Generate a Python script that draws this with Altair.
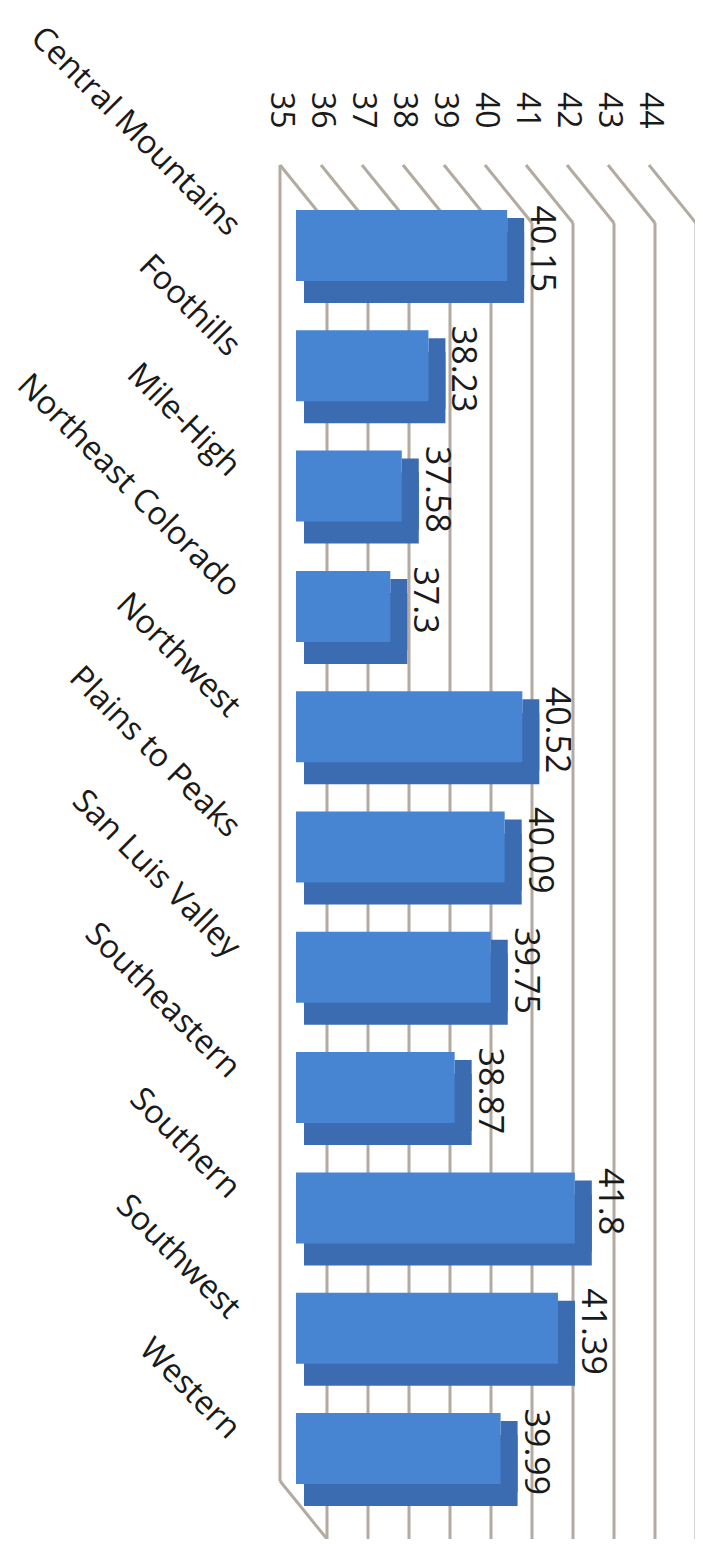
import altair as alt
import pandas as pd

# ---- data ----
regions = [
    "Central Mountains", "Foothills", "Mile-High", "Northeast Colorado",
    "Northwest", "Plains to Peaks", "San Luis Valley", "Southeastern",
    "Southern", "Southwest", "Western",
]
values = [40.15, 38.23, 37.58, 37.3, 40.52, 40.09, 39.75, 38.87, 41.8, 41.39, 39.99]
tick_values = [35, 36, 37, 38, 39, 40, 41, 42, 43, 44]
axis_min = 35
axis_max = 44

df = pd.DataFrame({
    "region": regions,
    "value": values,
    "start": [axis_min] * len(regions),
    "label": [str(v) for v in values],
})
grid_df = pd.DataFrame({"tick": tick_values})
wall_df = pd.DataFrame({"tick": [axis_min]})

# ---- styling ----
FONT = "Open Sans"
FACE = "#4784d2"
DARK = "#3b6cb2"
GRID = "#b3aaa1"
TEXT = "#1a1a1a"
W = 369
H = 1364
BACK = -16   # back-plane shift
FRONT = 31   # front-plane shift
RISE = 58    # depth of the 3D box in y

x_scale = alt.Scale(domain=[axis_min, axis_max], nice=False, zero=False)
y_scale = alt.Scale(domain=regions, paddingInner=0.41, paddingOuter=0.374)

x_axis = alt.Axis(
    orient="top", values=tick_values, labelAngle=90, labelAlign="right",
    labelBaseline="middle", labelOffset=BACK, labelPadding=37,
    ticks=False, domain=False, grid=False, labelFontSize=32,
    labelFont=FONT, labelColor=TEXT, title=None, labelOverlap=False,
    labelFlush=False,
)
y_axis = alt.Axis(
    orient="left", labelAngle=45, labelAlign="right", labelBaseline="middle",
    labelPadding=62, labelOffset=-15, domain=False, ticks=False,
    labelFontSize=32.5, labelFont=FONT, labelColor=TEXT, labelLimit=0,
    labelOverlap=False, title=None,
)


def X(field):
    return alt.X(field, scale=x_scale, axis=x_axis, title=None)


def Y():
    return alt.Y("region:N", scale=y_scale, axis=y_axis, title=None)


grid_v = alt.Chart(grid_df).mark_rule(color=GRID, strokeWidth=3, xOffset=FRONT).encode(
    x=X("tick:Q"),
    y=alt.value(RISE), y2=alt.value(H + 10),
)
grid_d = alt.Chart(grid_df).mark_rule(color=GRID, strokeWidth=3, xOffset=BACK, x2Offset=FRONT).encode(
    x=X("tick:Q"), x2="tick:Q",
    y=alt.value(0), y2=alt.value(RISE),
)
wall_v = alt.Chart(wall_df).mark_rule(color=GRID, strokeWidth=3, xOffset=BACK).encode(
    x=X("tick:Q"),
    y=alt.value(0), y2=alt.value(H - 48),
)
wall_d = alt.Chart(wall_df).mark_rule(color=GRID, strokeWidth=3, xOffset=BACK, x2Offset=FRONT).encode(
    x=X("tick:Q"), x2="tick:Q",
    y=alt.value(H - 48), y2=alt.value(H + 10),
)

depth = alt.Chart(df).mark_bar(color=DARK, xOffset=8, x2Offset=17, yOffset=22).encode(
    x=X("start:Q"), x2="value:Q", y=Y(),
)
end_face = alt.Chart(df).mark_bar(color=DARK, x2Offset=17, yOffset=8).encode(
    x=X("value:Q"), x2="value:Q", y=Y(),
)
face = alt.Chart(df).mark_bar(color=FACE).encode(
    x=X("start:Q"), x2="value:Q", y=Y(),
)
labels = alt.Chart(df).mark_text(
    angle=90, align="left", baseline="alphabetic", xOffset=24, yOffset=-40,
    fontSize=34, font=FONT, color=TEXT,
).encode(
    x=X("value:Q"), y=Y(), text="label:N",
)

chart = alt.layer(grid_v, grid_d, wall_v, wall_d, depth, end_face, face, labels).properties(
    width=W, height=H,
    autosize=alt.AutoSizeParams(type="none"),
    padding={"left": 288, "top": 157, "right": 30, "bottom": 10},
    background="white",
).configure_view(stroke=None)

chart.save("out.html", embed_options={"renderer": "svg", "actions": False})
